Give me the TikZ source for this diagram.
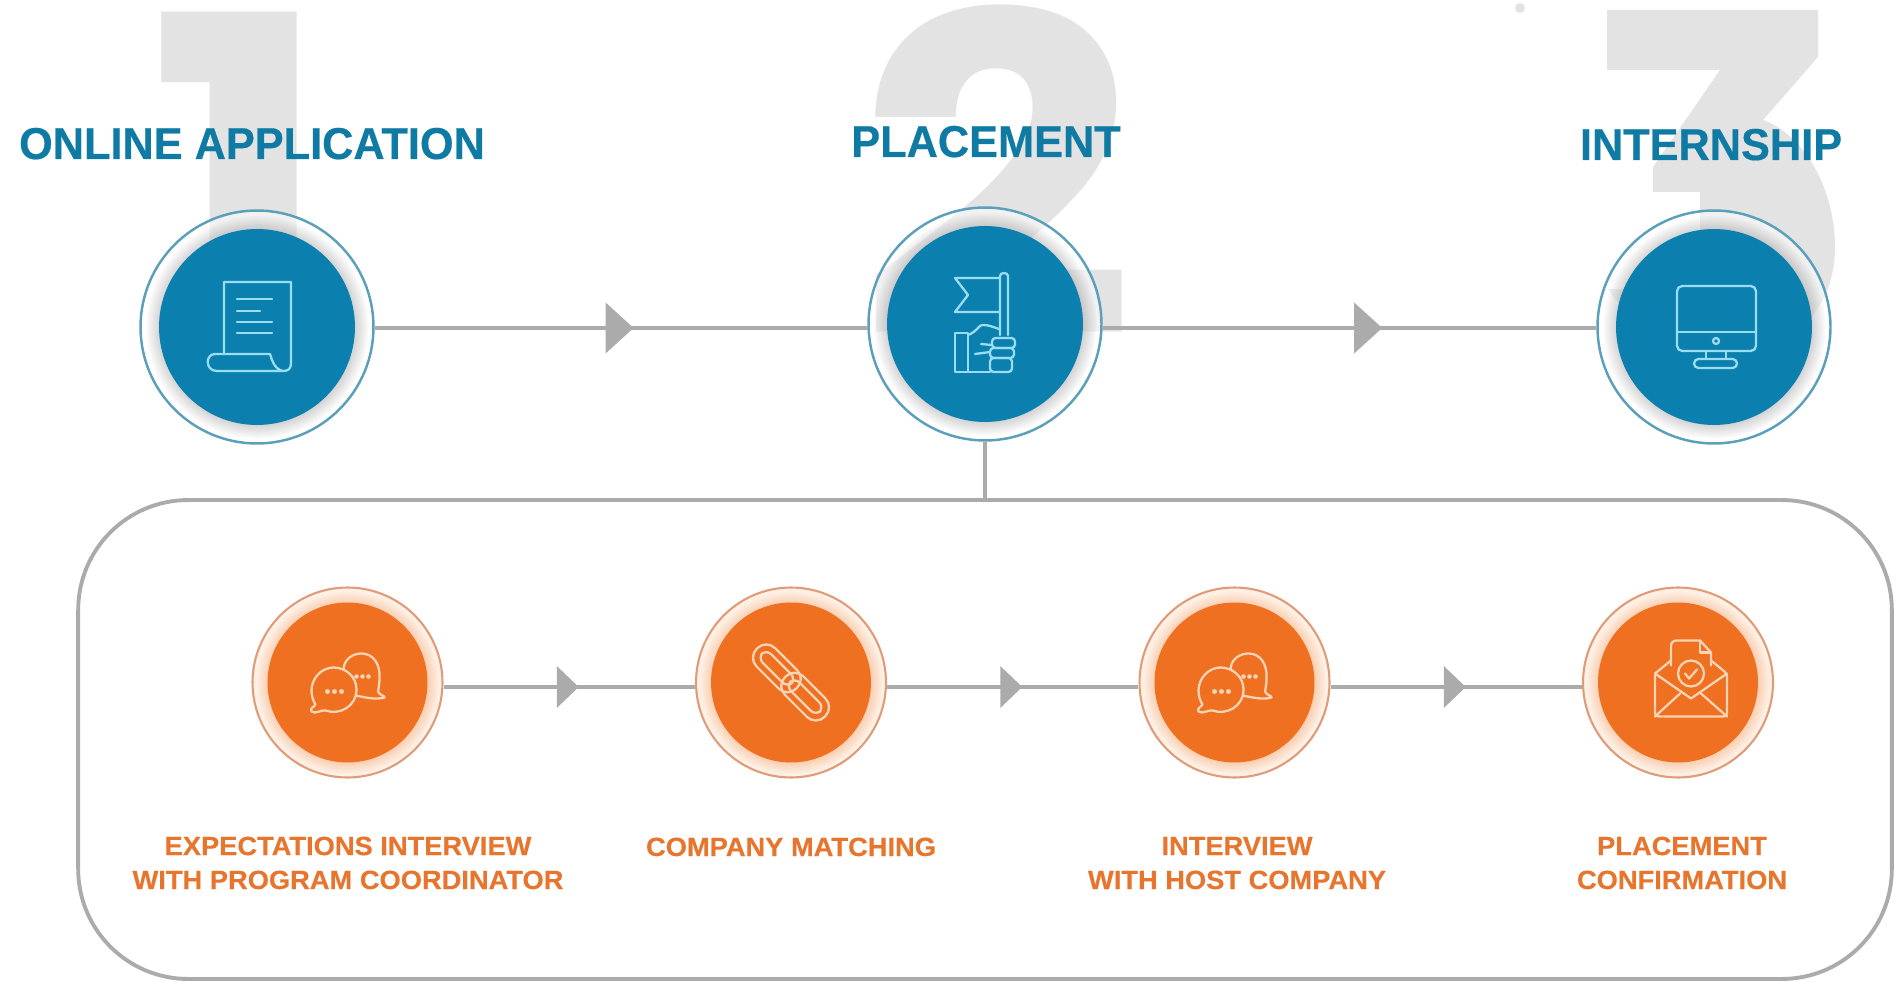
\documentclass[tikz,border=0pt]{standalone}
\usepackage{fontspec}
\setmainfont{Liberation Sans}
\newfontfamily\digitfont{Poppins}[FakeStretch=1.1]
\newfontfamily\titlefont{Liberation Sans}[FakeStretch=.97, FakeBold=.4]
\newfontfamily\captionfont{Liberation Sans}[FakeStretch=1.035, FakeBold=.3]
\usetikzlibrary{positioning, shapes.geometric, shadows}
\definecolor{xblue}{HTML}{0B80AE}
\definecolor{xteal}{HTML}{0F7AA3}
\definecolor{xring}{HTML}{5C9FBA}
\definecolor{xicon}{HTML}{9ADDF2}
\definecolor{xorange}{HTML}{EE7020}
\definecolor{xtext}{HTML}{E8752E}
\definecolor{xpeach}{HTML}{E09B78}
\definecolor{xwarm}{HTML}{FBD3B5}
\definecolor{xline}{HTML}{ABABAB}
\definecolor{xghost}{HTML}{E3E3E3}
\tikzset{
	ghost/.style={anchor=base, text=xghost, inner sep=0pt, font=\digitfont\bfseries\fontsize{253}{253}\selectfont},
	title/.style={anchor=base, text=xteal, inner sep=0pt, font=\titlefont\bfseries\fontsize{25.4}{30}\selectfont},
	caption/.style={anchor=base, align=center, text=xtext, inner sep=0pt, font=\captionfont\bfseries\fontsize{15}{19.3}\selectfont},
	bigring/.style={circle, draw=xring, line width=1.4pt, fill=white, fill opacity=.5, inner sep=0pt, minimum size=4.66cm},
	bigdisc/.style={circle, fill=xblue, inner sep=0pt, minimum size=3.92cm, circular glow={fill=black, opacity=.2, shadow scale=1.14}},
	smallring/.style={circle, draw=xpeach, line width=1.2pt, fill=xwarm!35, inner sep=0pt, minimum size=3.8cm},
	smalldisc/.style={circle, fill=xorange, inner sep=0pt, minimum size=3.2cm, circular glow={fill=xorange!70, opacity=.45, shadow scale=1.14}},
	flowline/.style={draw=xline, line width=2.2pt},
	stepline/.style={draw=xline, line width=2pt},
	flowtip/.style={isosceles triangle, isosceles triangle stretches, fill=xline, inner sep=0pt, minimum width=1.02cm, minimum height=.56cm, sloped, xshift=-.09cm},
	steptip/.style={isosceles triangle, isosceles triangle stretches, fill=xline, inner sep=0pt, minimum width=.84cm, minimum height=.44cm, sloped, xshift=-.07cm},
	panel/.style={rectangle, draw=xline, line width=2.2pt, rounded corners=2.2cm, inner sep=0pt, minimum width=36.28cm, minimum height=9.58cm},
	iconline/.style={draw=xicon, line width=1.3pt, line join=round, line cap=round},
	warmline/.style={draw=xwarm, line width=1.3pt, line join=round, line cap=round},
	pics/scrollicon/.style={code={
		\draw[iconline] (-33,27) -- (-33,-45) -- (34,-45) -- (34,36) .. controls (34,42) and (31,44) .. (26,44);
		\draw[iconline] (13,27) -- (-42,27) .. controls (-52,27) and (-52,44) .. (-40,44) -- (26,44) .. controls (17,42) and (15,33) .. (13,27);
		\draw[iconline] (-20,-28) -- (15,-28);
		\draw[iconline] (-20,-16) -- (3,-16);
		\draw[iconline] (-20,-5) -- (15,-5);
		\draw[iconline] (-20,6) -- (15,6);
	}},
	pics/flagicon/.style={code={
		\draw[iconline] (15,11) -- (15,-48) .. controls (15,-52) and (23,-52) .. (23,-48) -- (23,11);
		\draw[iconline] (15,-46) -- (-30,-46) -- (-17,-29) -- (-30,-12) -- (15,-12);
		\draw[iconline] (-30,9) rectangle (-17,48);
		\draw[iconline] (-17,11) .. controls (-8,8) and (-6,0) .. (-2,1) .. controls (4,1) and (8,3) .. (14,5);
		\draw[iconline] (-17,48) -- (5,48);
		\draw[iconline, rounded corners=2pt] (7,14) rectangle (30,24);
		\draw[iconline, rounded corners=2pt] (5,24) rectangle (29,34);
		\draw[iconline, rounded corners=2pt] (5,34) rectangle (27,48);
		\draw[iconline] (-4,20) -- (7,21);
		\draw[iconline] (-10,30) -- (5,28);
	}},
	pics/screenicon/.style={code={
		\draw[iconline, rounded corners=3pt] (-37,-41) rectangle (42,24);
		\draw[iconline] (-37,5) -- (42,5);
		\draw[iconline] (2,14) circle (3);
		\draw[iconline] (-8,24) -- (-8,32);
		\draw[iconline] (12,24) -- (12,32);
		\draw[iconline, rounded corners=2.5pt] (-20,32) rectangle (23,41);
	}},
	pics/talkicon/.style={code={
		\draw[warmline] (-4,-12) .. controls (-4,-24) and (6,-29) .. (14,-29) .. controls (26,-29) and (33,-18) .. (32,-4) .. controls (32,4) and (30,8) .. (31,10) .. controls (33,13) and (37,13) .. (37,15) .. controls (30,17) and (22,16) .. (8,13);
		\draw[warmline, fill=xorange] (-14,-15) .. controls (-26,-15) and (-36,-4) .. (-36,8) .. controls (-36,14) and (-34,19) .. (-32,22) .. controls (-34,25) and (-38,26) .. (-36,29) .. controls (-32,32) and (-26,27) .. (-22,28) .. controls (-8,33) and (9,24) .. (9,7) .. controls (9,-6) and (-2,-15) .. (-14,-15) -- cycle;
		\foreach \dotx in {-20,-13,-6} {\fill[xwarm] (\dotx,9) circle (2.5);}
		\foreach \dotx in {9,15,21} {\fill[xwarm] (\dotx,-6) circle (2.3);}
	}},
	pics/chainicon/.style={code={
		\begin{scope}[rotate=-45]
			\draw[warmline, rounded corners=7pt] (-48,-13) rectangle (8,13);
			\draw[warmline, rounded corners=4pt] (-41,-6) rectangle (1,6);
			\draw[warmline, rounded corners=7pt] (-8,-13) rectangle (48,13);
			\draw[warmline, rounded corners=4pt] (-1,-6) rectangle (41,6);
		\end{scope}
	}},
	pics/lettericon/.style={code={
		\draw[warmline, rounded corners=2pt] (-32,-9) -- (-32,34) -- (40,34) -- (40,-9) -- (24,-22);
		\draw[warmline] (-32,-9) -- (-16,-22);
		\draw[warmline] (-16,-17) -- (-16,-36) .. controls (-16,-40) and (-14,-42) .. (-10,-42) -- (13,-42) -- (24,-30) -- (24,-17);
		\draw[warmline] (13,-42) -- (13,-30) -- (24,-30);
		\draw[warmline] (-32,-9) -- (4,16) -- (40,-9);
		\draw[warmline] (-32,34) -- (-7,11);
		\draw[warmline] (40,34) -- (14,11);
		\draw[warmline] (4,-9) circle (13);
		\draw[warmline] (-2,-9) -- (2,-4) -- (10,-13);
	}},
}

\begin{document}
\begin{tikzpicture}[x=0.02cm, y=-0.02cm]
	\useasboundingbox (0,0) rectangle (1899,982);
	% numbers
	\node[ghost] (one) at (240,337) {1};
	\node[ghost] (two) at (997,337) {2};
	\fill[xghost] (1607,10) -- (1818,10) -- (1818,57) -- (1763,120) .. controls (1805,135) and (1835,190) .. (1835,247) .. controls (1835,290) and (1815,320) .. (1790,335) -- (1700,300) -- (1700,192) -- (1653,192) -- (1653,167) -- (1720,70) -- (1607,70) -- cycle;
	\begin{scope}
		\clip (1560,290) rectangle (1700,345);
		\node[ghost] (three) at (1720,337) {3};
	\end{scope}
	\fill[xghost] (1520,8) circle (5);

	% top row
	\node[title] (applyText) at (252,159) {ONLINE APPLICATION};
	\node[title] (placeText) at (986,157) {PLACEMENT};
	\node[title] (internText) at (1711,160) {INTERNSHIP};

	\node[bigring] (apply) at (257,327) {};
	\node[bigring] (place) at (985,324) {};
	\node[bigring] (intern) at (1714,327) {};
	\node[bigdisc] (applyDisc) at (257,327) {};
	\node[bigdisc] (placeDisc) at (985,324) {};
	\node[bigdisc] (internDisc) at (1714,327) {};
	\pic (scroll) at (applyDisc) {scrollicon};
	\pic (flag) at (placeDisc) {flagicon};
	\pic (screen) at (internDisc) {screenicon};

	\coordinate (placeL) at (868,328);
	\coordinate (placeR) at (1102,328);
	\draw[flowline] (apply.east |- placeL) -- node[flowtip] (tipA) {} (placeL);
	\draw[flowline] (placeR) -- node[flowtip, pos=.542] (tipB) {} (intern.west |- placeR);

	% placement box
	\node[panel] (box) at (985,739.5) {};
	\draw[flowline] (place.south) -- (place.south |- box.north);

	\node[smallring] (talkA) at (347.5,682.5) {};
	\node[smallring] (chain) at (791,682.5) {};
	\node[smallring] (talkB) at (1234.5,682.5) {};
	\node[smallring] (letter) at (1678,682.5) {};
	\node[smalldisc] (talkADisc) at (347.5,682.5) {};
	\node[smalldisc] (chainDisc) at (791,682.5) {};
	\node[smalldisc] (talkBDisc) at (1234.5,682.5) {};
	\node[smalldisc] (letterDisc) at (1678,682.5) {};
	\pic (talkAIcon) at (talkADisc) {talkicon};
	\pic (chainIcon) at (chainDisc) {chainicon};
	\pic (talkBIcon) at (talkBDisc) {talkicon};
	\pic (letterIcon) at ([xshift=0.18cm]letterDisc) {lettericon};

	\coordinate (stepRow) at (0,687);
	\draw[stepline] (talkA.east |- stepRow) -- node[steptip] (tipC) {} (chain.west |- stepRow);
	\draw[stepline] (chain.east |- stepRow) -- node[steptip] (tipD) {} (talkB.west |- stepRow);
	\draw[stepline] (talkB.east |- stepRow) -- node[steptip] (tipE) {} (letter.west |- stepRow);

	\node[caption] (talkAText) at (348,889) {EXPECTATIONS INTERVIEW\\WITH PROGRAM COORDINATOR};
	\node[caption] (chainText) at (791,856) {COMPANY MATCHING};
	\node[caption] (talkBText) at (1237,889) {INTERVIEW\\WITH HOST COMPANY};
	\node[caption] (letterText) at (1682,889) {PLACEMENT\\CONFIRMATION};
\end{tikzpicture}
\end{document}
